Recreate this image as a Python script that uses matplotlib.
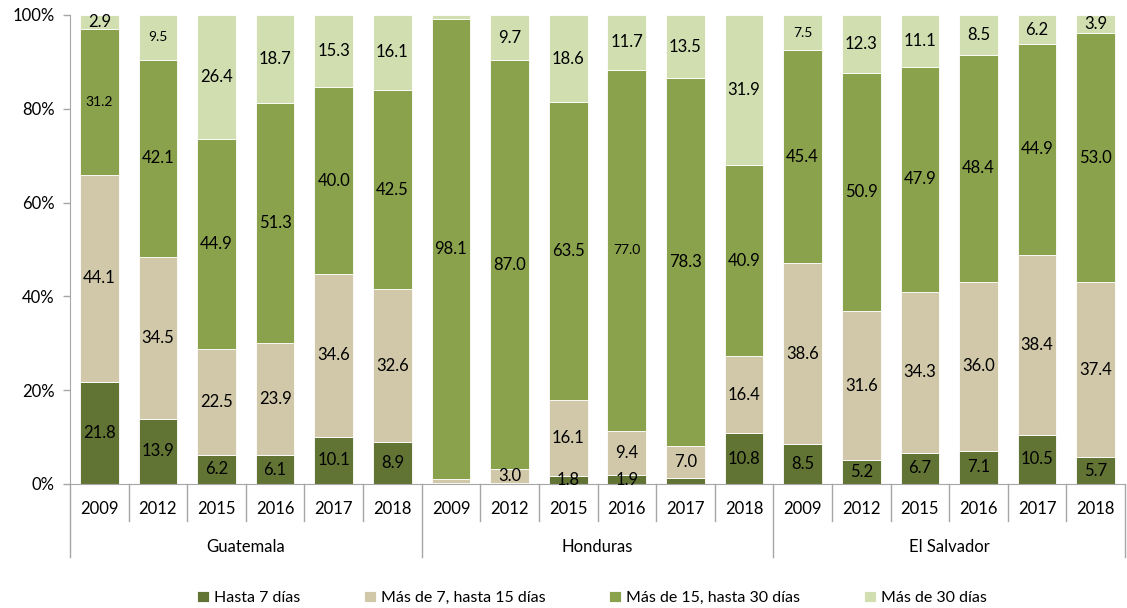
import matplotlib
matplotlib.use("Agg")
import matplotlib.pyplot as plt
import matplotlib.transforms as mtransforms
import numpy as np

plt.rcParams['font.family'] = ['Lato', 'DejaVu Sans']

countries = ["Guatemala", "Honduras", "El Salvador"]
years = ["2009", "2012", "2015", "2016", "2017", "2018"]
series_names = ["Hasta 7 días", "Más de 7, hasta 15 días",
                "Más de 15, hasta 30 días", "Más de 30 días"]

hasta7 = [21.8, 13.9, 6.2, 6.1, 10.1, 8.9,
          0.2, 0.3, 1.8, 1.9, 1.2, 10.8,
          8.5, 5.2, 6.7, 7.1, 10.5, 5.7]
de7a15 = [44.1, 34.5, 22.5, 23.9, 34.6, 32.6,
          0.8, 3.0, 16.1, 9.4, 7.0, 16.4,
          38.6, 31.6, 34.3, 36.0, 38.4, 37.4]
de15a30 = [31.2, 42.1, 44.9, 51.3, 40.0, 42.5,
           98.1, 87.0, 63.5, 77.0, 78.3, 40.9,
           45.4, 50.9, 47.9, 48.4, 44.9, 53.0]
mas30 = [2.9, 9.5, 26.4, 18.7, 15.3, 16.1,
         0.9, 9.7, 18.6, 11.7, 13.5, 31.9,
         7.5, 12.3, 11.1, 8.5, 6.2, 3.9]

# which labels are hidden and which are drawn smaller
hidden = {(0, 6), (1, 6), (3, 6), (0, 7), (0, 10)}
small = {(2, 0), (3, 1), (2, 9), (3, 12)}

colors = ["#627434", "#d0c8a8", "#8aa24c", "#d1deb0"]
series = [hasta7, de7a15, de15a30, mas30]

fig = plt.figure(figsize=(11.27, 6.08), dpi=100)
ax = fig.add_axes([70/1127, 1 - 484/608, (1125-70)/1127, 469/608])

n = len(countries) * len(years)
x = np.arange(n)
bottom = np.zeros(n)
handles = []
for si, (vals, col) in enumerate(zip(series, colors)):
    vals = np.array(vals)
    h = ax.bar(x, vals, bottom=bottom, width=0.66, color=col,
               edgecolor="white", linewidth=0.6, label=series_names[si])
    handles.append(h)
    for i in range(n):
        if (si, i) in hidden:
            continue
        fs = 10 if (si, i) in small else 12
        ax.text(x[i], bottom[i] + vals[i] / 2, f"{vals[i]:.1f}",
                ha="center", va="center", fontsize=fs, color="black")
    bottom += vals

ax.set_xlim(-0.5, n - 0.5)
ax.set_ylim(0, 100)
ax.set_yticks(np.arange(0, 101, 20))
ax.set_yticklabels([f"{v}%" for v in range(0, 101, 20)], fontsize=12)
ax.set_xticks(x)
ax.set_xticklabels(years * len(countries), fontsize=12)
ax.tick_params(axis="x", length=0, pad=12)
ax.tick_params(axis="y", length=5, color="#a6a6a6", width=1, pad=6)

for sp in ["top", "right"]:
    ax.spines[sp].set_visible(False)
ax.spines["left"].set_color("#a6a6a6")
ax.spines["bottom"].set_color("#a6a6a6")

trans = mtransforms.blended_transform_factory(ax.transData, ax.transAxes)
for i in range(n + 1):
    xs = i - 0.5
    y1 = -73 / 469 if i % len(years) == 0 else -37 / 469
    ax.plot([xs, xs], [0, y1], color="#a6a6a6", lw=1, transform=trans,
            clip_on=False)

for ci, c in enumerate(countries):
    xc = ci * len(years) + (len(years) - 1) / 2
    ax.text(xc, -63 / 469, c, transform=trans, ha="center", va="center",
            fontsize=12)

fig.legend(handles=handles, loc="center", bbox_to_anchor=(0.525, 1 - 598/608),
           ncol=4, frameon=False, fontsize=11.5, handlelength=0.75,
           handleheight=0.75, handletextpad=0.3, columnspacing=4.0)

fig.savefig("out.png", dpi=100)
